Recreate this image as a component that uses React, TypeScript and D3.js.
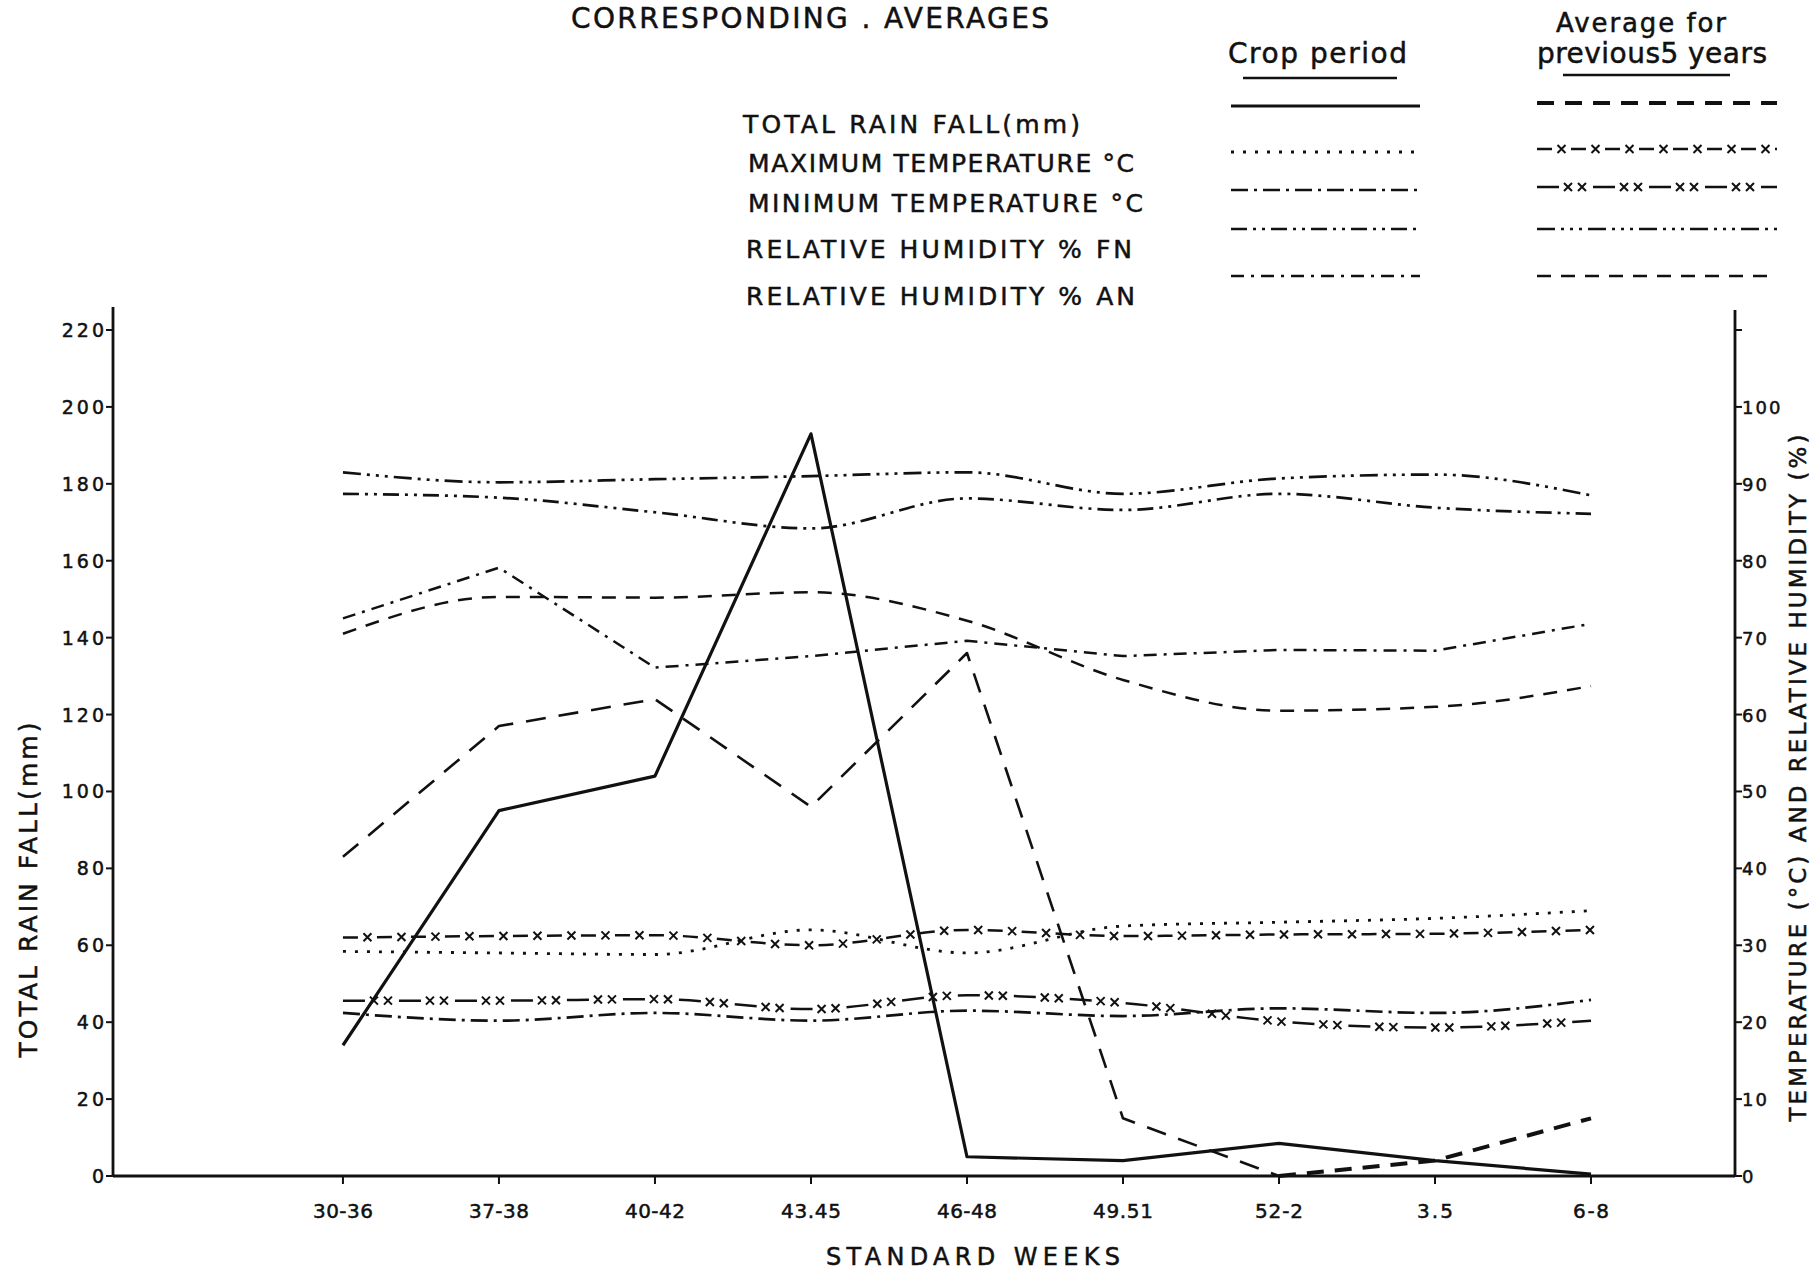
import React, { useEffect, useRef } from "react";
import * as d3 from "d3";

const weeks = ["30-36", "37-38", "40-42", "43.45", "46-48", "49.51", "52-2", "3.5", "6-8"];
// rainfall (left axis, mm)
const rainCrop = [34, 95, 104, 193, 5, 4, 8.5, 4, 0.5];
const rainAvg = [83, 117, 124, 96, 136, 15, 0, 4, 15];
// temperature / humidity (right axis)
const maxTempCrop = [29.2, 29, 28.8, 32, 29, 32.5, 33, 33.5, 34.5];
const maxTempAvg = [31, 31.2, 31.3, 30, 32, 31.2, 31.4, 31.5, 32];
const minTempCrop = [21.2, 20.2, 21.2, 20.2, 21.5, 20.8, 21.8, 21.2, 22.9];
const minTempAvg = [22.8, 22.8, 23, 21.7, 23.5, 22.5, 20.1, 19.3, 20.2];
const rhFnCrop = [88.7, 88.2, 86.3, 84.2, 88.1, 86.6, 88.7, 86.9, 86.1];
const rhFnAvg = [91.5, 90.2, 90.6, 91, 91.5, 88.7, 90.7, 91.2, 88.5];
const rhAnCrop = [72.5, 79.1, 66.1, 67.6, 69.6, 67.6, 68.4, 68.3, 71.8];
const rhAnAvg = [70.5, 75.3, 75.2, 75.9, 72.2, 64.5, 60.5, 61, 63.7];

const leftTicks = [0, 20, 40, 60, 80, 100, 120, 140, 160, 180, 200, 220];
const rightTicks = [0, 10, 20, 30, 40, 50, 60, 70, 80, 90, 100];
const legendLabels = [
  "TOTAL RAIN FALL(mm)",
  "MAXIMUM TEMPERATURE °C",
  "MINIMUM TEMPERATURE °C",
  "RELATIVE HUMIDITY % FN",
  "RELATIVE HUMIDITY % AN",
];

type Cross = { period: number; at: number[] };
type St = { dash: string | null; w: number; cross?: Cross };

const ST: Record<string, St> = {
  rainCrop: { dash: null, w: 3.2 },
  rainAvg: { dash: "20 13", w: 2.6 },
  rainAvgHeavy: { dash: "17 11", w: 4 },
  maxCrop: { dash: "3 9", w: 2.8 },
  maxAvg: { dash: "15 19", w: 2.5, cross: { period: 34, at: [24.5] } },
  minCrop: { dash: "17 6 3 6", w: 2.7 },
  minAvg: { dash: "22 34", w: 2.5, cross: { period: 56, at: [31, 45] } },
  fnCrop: { dash: "16 6 3 6 3 6", w: 2.7 },
  fnAvg: { dash: "18 6 3 6 3 6 3 6", w: 2.7 },
  anCrop: { dash: "13 7 3 7", w: 2.5 },
  anAvg: { dash: "14 10", w: 2.5 },
};

const FONT = "'DejaVu Sans', sans-serif";

function drawStyled(g: any, d: string, st: St) {
  const p = g
    .append("path")
    .attr("d", d)
    .attr("fill", "none")
    .attr("stroke", "#111")
    .attr("stroke-width", st.w)
    .attr("stroke-linejoin", "round");
  if (st.dash) p.attr("stroke-dasharray", st.dash);
  if (st.cross) {
    const node = p.node() as SVGPathElement;
    const L = node.getTotalLength();
    for (let s = 0; s < L; s += st.cross.period) {
      for (const a of st.cross.at) {
        if (s + a > L) continue;
        const pt = node.getPointAtLength(s + a);
        const r = 4;
        g.append("path")
          .attr(
            "d",
            `M${pt.x - r},${pt.y - r}L${pt.x + r},${pt.y + r}M${pt.x - r},${pt.y + r}L${pt.x + r},${pt.y - r}`
          )
          .attr("stroke", "#111")
          .attr("stroke-width", 2)
          .attr("fill", "none");
      }
    }
  }
}

export default function App() {
  const ref = useRef<SVGSVGElement>(null);

  useEffect(() => {
    const svg = d3.select(ref.current);
    svg.selectAll("*").remove();
    const g = svg.append("g");

    const x = d3.scaleLinear().domain([-1.474, 8.923]).range([113, 1735]);
    const yL = d3.scaleLinear().domain([0, 220]).range([1176, 330]);
    const yR = d3.scaleLinear().domain([0, 110]).range([1176, 330]);

    const text = (
      s: string,
      tx: number,
      ty: number,
      size: number,
      opts: { anchor?: string; len?: number; rotate?: boolean; ls?: number } = {}
    ) => {
      const t = g
        .append("text")
        .attr("x", tx)
        .attr("y", ty)
        .attr("font-family", FONT)
        .attr("font-size", size)
        .attr("fill", "#111")
        .attr("stroke", "#111")
        .attr("stroke-width", 0.5)
        .attr("text-anchor", opts.anchor || "start")
        .text(s);
      if (opts.len) t.attr("textLength", opts.len).attr("lengthAdjust", "spacing");
      if (opts.ls) t.attr("letter-spacing", opts.ls);
      if (opts.rotate) t.attr("transform", `rotate(-90 ${tx} ${ty})`);
      return t;
    };

    // ---- axes ----
    const axisLine = (x1: number, y1: number, x2: number, y2: number, w = 2.8) =>
      g.append("line").attr("x1", x1).attr("y1", y1).attr("x2", x2).attr("y2", y2)
        .attr("stroke", "#111").attr("stroke-width", w);

    axisLine(x.range()[0], 307, x.range()[0], yL(0) + 1);
    axisLine(x.range()[1], 310, x.range()[1], yR(0) + 1);
    axisLine(x.range()[0], yL(0), x.range()[1], yL(0));

    leftTicks.forEach((v) => {
      axisLine(x.range()[0] - 7, yL(v), x.range()[0], yL(v), 2);
      text(String(v), 107, yL(v) + 7, 19, { anchor: "end", ls: 3 });
    });
    [...rightTicks, 110].forEach((v) => {
      axisLine(x.range()[1], yR(v), x.range()[1] + 7, yR(v), 2);
      if (v <= 100) text(String(v), 1742, yR(v) + 7, 18, { ls: 2 });
    });
    weeks.forEach((w, i) => {
      axisLine(x(i), yL(0), x(i), yL(0) + 8, 2);
      text(w, x(i), 1218, 20, { anchor: "middle", len: w.length * 12 });
    });

    text("STANDARD WEEKS", 826, 1265, 24, { len: 294 });
    text("TOTAL RAIN FALL(mm)", 37, 890, 25, { anchor: "middle", rotate: true, len: 335 });
    text("TEMPERATURE (°C) AND RELATIVE HUMIDITY (%)", 1806, 778, 23, {
      anchor: "middle",
      rotate: true,
      len: 687,
    });

    // ---- series ----
    const idx = (vals: number[], off = 0) => vals.map((v, i) => [i + off, v] as [number, number]);
    const lineL = (curve: any) =>
      d3.line<[number, number]>().x((d) => x(d[0])).y((d) => yL(d[1])).curve(curve);
    const lineR = (curve: any) =>
      d3.line<[number, number]>().x((d) => x(d[0])).y((d) => yR(d[1])).curve(curve);

    const smooth = d3.curveMonotoneX;
    const lin = d3.curveLinear;

    drawStyled(g, lineR(smooth)(idx(rhFnAvg))!, ST.fnAvg);
    drawStyled(g, lineR(smooth)(idx(rhFnCrop))!, ST.fnCrop);
    drawStyled(g, lineR(lin)(idx(rhAnCrop))!, ST.anCrop);
    drawStyled(g, lineR(smooth)(idx(rhAnAvg))!, ST.anAvg);
    drawStyled(g, lineR(smooth)(idx(maxTempCrop))!, ST.maxCrop);
    drawStyled(g, lineR(smooth)(idx(maxTempAvg))!, ST.maxAvg);
    drawStyled(g, lineR(smooth)(idx(minTempCrop))!, ST.minCrop);
    drawStyled(g, lineR(smooth)(idx(minTempAvg))!, ST.minAvg);
    drawStyled(g, lineL(lin)(idx(rainAvg.slice(0, 7)))!, ST.rainAvg);
    drawStyled(g, lineL(lin)(idx(rainAvg.slice(6), 6))!, ST.rainAvgHeavy);
    drawStyled(g, lineL(lin)(idx(rainCrop))!, ST.rainCrop);

    // ---- title & legend ----
    text("CORRESPONDING . AVERAGES", 571, 28, 28, { len: 478 });

    const labelPos = [
      { x: 743, y: 133, len: 337 },
      { x: 748, y: 172, len: 386 },
      { x: 748, y: 212, len: 395 },
      { x: 746, y: 258, len: 386 },
      { x: 746, y: 305, len: 389 },
    ];
    legendLabels.forEach((s, i) => text(s, labelPos[i].x, labelPos[i].y, 25, { len: labelPos[i].len }));

    text("Crop period", 1228, 63, 28, { len: 179 });
    axisLine(1243, 78, 1397, 78, 2.5);
    text("Average for", 1556, 32, 26, { len: 170 });
    text("previous5 years", 1537, 63, 28, { len: 230 });
    axisLine(1563, 75, 1730, 75, 2.5);

    const cropStyles = [ST.rainCrop, ST.maxCrop, ST.minCrop, ST.fnCrop, ST.anCrop];
    const avgStyles = [ST.rainAvgHeavy, ST.maxAvg, ST.minAvg, ST.fnAvg, ST.anAvg];
    const cropY = [106, 152, 190, 229, 276];
    const avgY = [103, 149, 187, 229, 276];
    cropStyles.forEach((st, i) => drawStyled(g, `M1231,${cropY[i]}L1420,${cropY[i]}`, st));
    avgStyles.forEach((st, i) => drawStyled(g, `M1537,${avgY[i]}L1777,${avgY[i]}`, st));
  }, []);

  return (
    <svg
      ref={ref}
      width={1817}
      height={1270}
      style={{ position: "absolute", left: 0, top: 0, background: "#fff" }}
    />
  );
}
